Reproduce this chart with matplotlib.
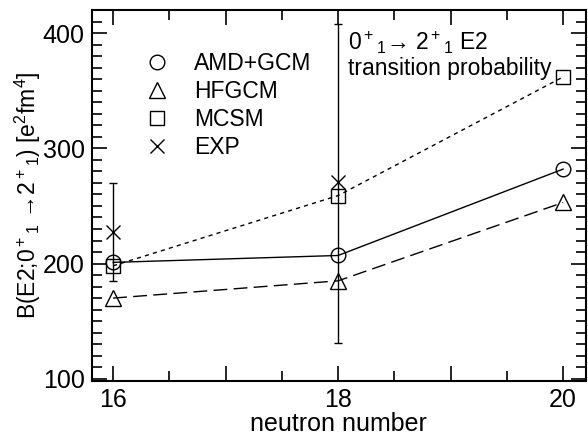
import numpy as np
import matplotlib
matplotlib.use("Agg")
import matplotlib.pyplot as plt
from matplotlib.lines import Line2D
from matplotlib.ticker import MultipleLocator, FuncFormatter

plt.rcParams['font.family'] = ['Liberation Sans', 'DejaVu Sans']
plt.rcParams['mathtext.fontset'] = 'custom'
plt.rcParams['mathtext.rm'] = 'Liberation Sans'
plt.rcParams['mathtext.it'] = 'Liberation Sans:italic'

# neutron number and B(E2) values
neutrons = [16, 18, 20]
amd_gcm = [201, 207, 282]
hfgcm = [170, 185, 253]
mcsm = [198, 259, 362]

exp_n = [16, 18]
exp_val = [227, 271]
exp_lo = [42, 140]
exp_hi = [43, 137]

fig = plt.figure(figsize=(5.88, 4.38), dpi=100)
ax = fig.add_axes([0.156, 0.130, 0.840, 0.847])

ax.plot(neutrons, amd_gcm, color='k', lw=1.0, ls='-', marker='o', ms=10.5,
        mfc='none', mec='k', mew=1.0)
ax.plot(neutrons, hfgcm, color='k', lw=1.0, ls=(0, (10, 4.5)), marker='^', ms=11,
        mfc='none', mec='k', mew=1.0)
ax.plot(neutrons, mcsm, color='k', lw=1.0, ls=(0, (3, 3)), marker='s', ms=10,
        mfc='none', mec='k', mew=1.0)
ax.errorbar(exp_n, exp_val, yerr=[exp_lo, exp_hi], fmt='x', color='k', ms=10,
            mew=1.0, elinewidth=1.0, capsize=3, capthick=1.0)

ax.set_xlim(15.81, 20.2)
ax.set_ylim(98, 420)

ax.xaxis.set_major_locator(MultipleLocator(1))
ax.xaxis.set_minor_locator(MultipleLocator(0.5))
ax.xaxis.set_major_formatter(FuncFormatter(lambda v, p: '%d' % v if int(round(v)) % 2 == 0 else ''))
ax.yaxis.set_major_locator(MultipleLocator(100))
ax.yaxis.set_minor_locator(MultipleLocator(10))

ax.tick_params(which='both', direction='in', top=True, right=True, width=1.2)
ax.tick_params(which='major', length=11, labelsize=18, pad=5)
ax.tick_params(which='minor', length=7)
for s in ax.spines.values():
    s.set_linewidth(1.5)

ax.set_xlabel('neutron number', fontsize=18, labelpad=0)
ax.set_ylabel('B(E2;0$^+$${}_1$ \u21922$^+$${}_1$) [e$^2$fm$^4$]', fontsize=16.5, labelpad=0)

ax.text(18.09, 403, '0$^+$${}_1$\u2192 2$^+$${}_1$ E2', fontsize=16.5, va='top', ha='left')
ax.text(18.09, 379, 'transition probability', fontsize=16.5, va='top', ha='left')

handles = [
    Line2D([], [], ls='none', marker='o', ms=10.5, mfc='none', mec='k'),
    Line2D([], [], ls='none', marker='^', ms=11, mfc='none', mec='k'),
    Line2D([], [], ls='none', marker='s', ms=10, mfc='none', mec='k'),
    Line2D([], [], ls='none', marker='x', ms=10, mec='k'),
]
ax.legend(handles, ['AMD+GCM', 'HFGCM', 'MCSM', 'EXP'], loc='upper left',
          bbox_to_anchor=(0.086, 0.917), frameon=False, fontsize=16.5,
          handlelength=1.0, handletextpad=1.1, labelspacing=0.22, borderpad=0)

fig.savefig('out.png', dpi=100)
